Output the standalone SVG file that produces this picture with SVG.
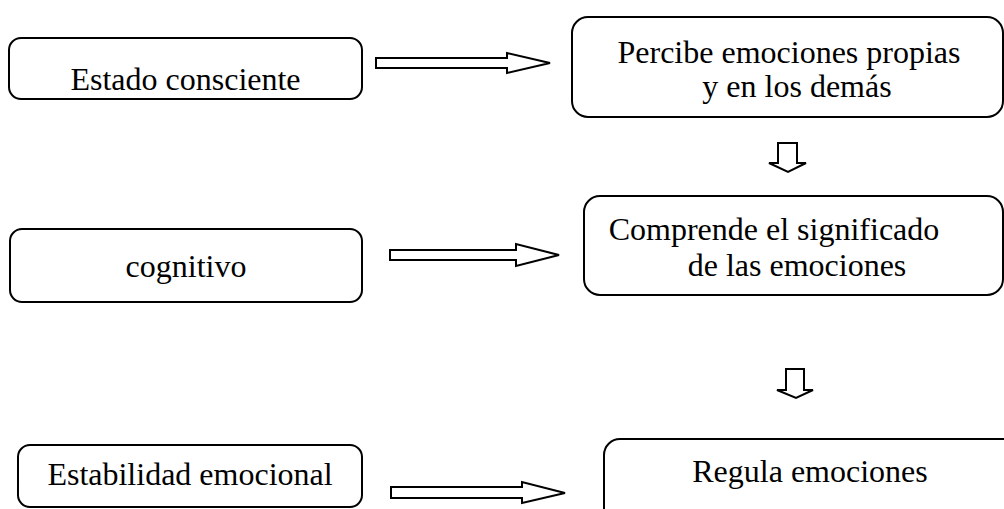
<svg xmlns="http://www.w3.org/2000/svg" width="1004" height="509" viewBox="0 0 1004 509">
<style>
.box{fill:#fff;stroke:#000;stroke-width:2}
.arr{fill:#fff;stroke:#000;stroke-width:2;stroke-linejoin:miter}
.t{font-family:"Liberation Serif","Times New Roman",serif;font-size:32px;fill:#000;text-anchor:middle}
</style>
<rect width="1004" height="509" fill="#fff"/>
<g id="n1"><rect class="box" x="9" y="38" width="353" height="61" rx="12"/><text class="t" x="185.5" y="90">Estado consciente</text></g>
<g id="n2"><rect class="box" x="572" y="17" width="431" height="100" rx="16"/><text class="t" x="789" y="63">Percibe emociones propias</text><text class="t" x="797" y="97">y en los demás</text></g>
<g id="n3"><rect class="box" x="10" y="229" width="352" height="73" rx="12"/><text class="t" x="186" y="277">cognitivo</text></g>
<g id="n4"><rect class="box" x="584" y="196" width="419" height="99" rx="16"/><text class="t" x="774" y="240">Comprende el significado</text><text class="t" x="797" y="276">de las emociones</text></g>
<g id="n5"><rect class="box" x="18" y="445" width="344" height="62" rx="12"/><text class="t" x="190" y="485">Estabilidad emocional</text></g>
<g id="n6"><rect class="box" x="604" y="439" width="420" height="90" rx="16"/><text class="t" x="810" y="482">Regula emociones</text></g>
<g id="connectors">
<path class="arr" d="M376,58 H507 V53 L550,63 L507,73 V68 H376 Z"/>
<path class="arr" d="M390,250 H516 V244 L559,255 L516,266 V260 H390 Z"/>
<path class="arr" d="M391,487 H522 V482 L565,493 L522,503 V498 H391 Z"/>
<path class="arr" d="M778,143 H797 V163 H806 L788,172 L769,163 H778 Z"/>
<path class="arr" d="M786,369 H804 V390 H813 L796,398 L777,390 H786 Z"/>
</g>
</svg>
